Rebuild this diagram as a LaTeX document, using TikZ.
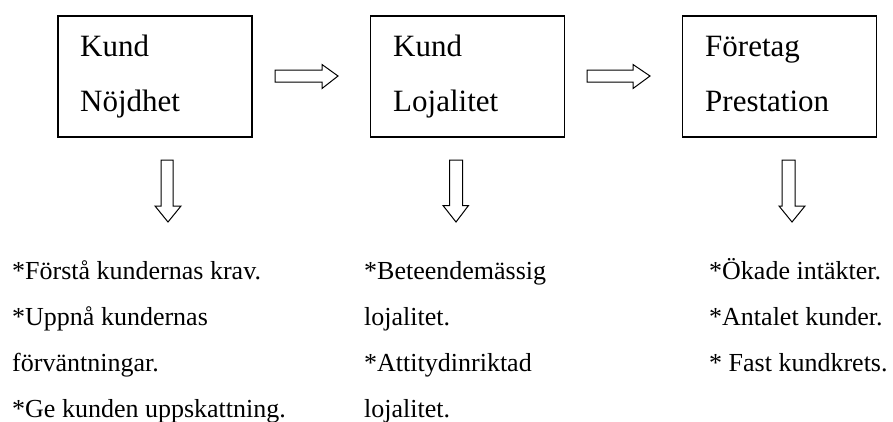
\documentclass[tikz,border=0pt]{standalone}
\usepackage{fontspec}
\setmainfont{Liberation Serif}
\begin{document}
\begin{tikzpicture}[x=1pt,y=-1pt,
  box/.style={draw,line width=1.6pt,minimum width=194pt,minimum height=121pt,inner sep=0pt},
  boxtext/.style={anchor=base west,inner sep=0pt,font=\fontsize{31}{37}\selectfont},
  listtext/.style={anchor=base west,inner sep=0pt,font=\fontsize{26}{31}\selectfont},
  blockarrow/.style={draw,line width=1pt,line join=miter,fill=white}]
\useasboundingbox (0,0) rectangle (893,421);
% boxes
\node[box] (b1) at (155,76.5) {};
\node[box] (b2) at (467.5,76.5) {};
\node[box] (b3) at (779.5,76.5) {};
% box texts
\node[boxtext] (t1a) at (80,56.7) {Kund};
\node[boxtext] (t1b) at (80,111) {Nöjdhet};
\node[boxtext] (t2a) at (393,56.7) {Kund};
\node[boxtext] (t2b) at (393,111) {Lojalitet};
\node[boxtext] (t3a) at (705,56.7) {Företag};
\node[boxtext] (t3b) at (705,111) {Prestation};
% right block arrows
\draw[blockarrow] (275,70) -- (322,70) -- (322,64.5) -- (338,76) -- (322,88.5) -- (322,82) -- (275,82) -- cycle;
\draw[blockarrow] (587,70) -- (633,70) -- (633,64.5) -- (650,76) -- (633,88.5) -- (633,82) -- (587,82) -- cycle;
% down block arrows
\draw[blockarrow] (161,160) -- (173,160) -- (173,206) -- (181,206) -- (168,222) -- (155,206) -- (161,206) -- cycle;
\draw[blockarrow] (449.5,160) -- (462.5,160) -- (462.5,205.5) -- (468.5,205.5) -- (456,222) -- (443,205.5) -- (449.5,205.5) -- cycle;
\draw[blockarrow] (782,160) -- (795,160) -- (795,206) -- (805,206) -- (792,222) -- (779,206) -- (782,206) -- cycle;
% lists
\node[listtext] (l1a) at (12,279.5) {*Förstå kundernas krav.};
\node[listtext] (l1b) at (12,325.4) {*Uppnå kundernas};
\node[listtext] (l1c) at (12,371.3) {förväntningar.};
\node[listtext] (l1d) at (12,417.2) {*Ge kunden uppskattning.};
\node[listtext] (l2a) at (364,279.5) {*Beteendemässig};
\node[listtext] (l2b) at (364,325.4) {lojalitet.};
\node[listtext] (l2c) at (364,371.3) {*Attitydinriktad};
\node[listtext] (l2d) at (364,417.2) {lojalitet.};
\node[listtext] (l3a) at (709,279.5) {*Ökade intäkter.};
\node[listtext] (l3b) at (709,325.4) {*Antalet kunder.};
\node[listtext] (l3c) at (709,371.3) {* Fast kundkrets.};
\end{tikzpicture}
\end{document}
